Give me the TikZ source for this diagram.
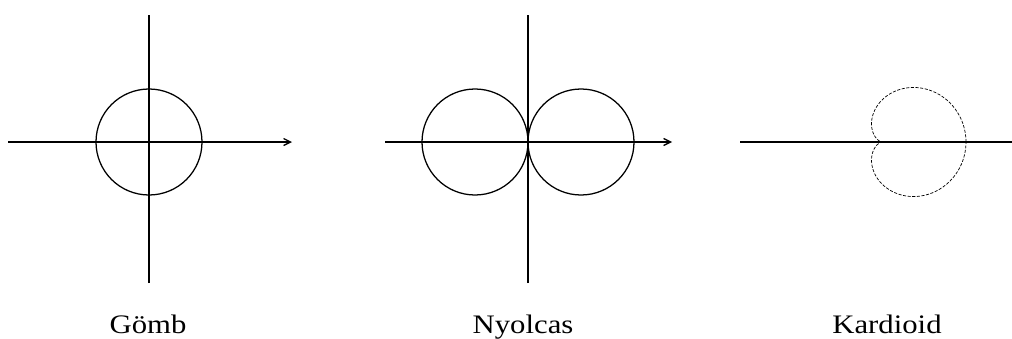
\documentclass[tikz,border=0pt]{standalone}
\usepackage{fontspec}
\setmainfont{Liberation Serif}
\usetikzlibrary{arrows.meta, positioning}

\begin{document}
\begin{tikzpicture}[
    x=0.025cm, y=0.025cm,
    axis/.style={line width=0.9pt},
    curve/.style={line width=0.9pt},
    pattern/.style={line width=0.5pt, dash pattern=on 2.2pt off 1.1pt},
    lbl/.style={font=\fontsize{19}{22}\selectfont, anchor=base,
                inner sep=0pt, xscale=1.15, transform shape},
    >={Straight Barb[length=5pt, width=5pt]},
]
  \useasboundingbox (0,0) rectangle (1012,338);

  % ---- Gomb: sphere pattern ----
  \coordinate (o1) at (149,196);
  \coordinate (o1w) at (8,196);
  \coordinate (o1e) at (292,196);
  \coordinate (o1n) at (149,323);
  \coordinate (o1s) at (149,55);
  \draw[axis, ->] (o1w) -- (o1e);
  \draw[axis] (o1s) -- (o1n);
  \draw[curve] (o1) circle[radius=53];

  % ---- Nyolcas: figure eight ----
  \coordinate (o2) at (528,196);
  \coordinate (o2l) at (475,196);
  \coordinate (o2r) at (581,196);
  \coordinate (o2w) at (385,196);
  \coordinate (o2e) at (672,196);
  \coordinate (o2n) at (528,323);
  \coordinate (o2s) at (528,55);
  \draw[axis, ->] (o2w) -- (o2e);
  \draw[axis] (o2s) -- (o2n);
  \draw[curve] (o2l) circle[radius=53];
  \draw[curve] (o2r) circle[radius=53];

  % ---- Kardioid: r = a(1+cos t), a = 42 ----
  \coordinate (o3) at (882,196);
  \coordinate (o3w) at (740,196);
  \coordinate (o3e) at (1012,196);
  \draw[axis] (o3w) -- (o3e);
  \draw[pattern, shift={(o3)}]
    plot[domain=0:360, samples=120, smooth]
    ({42*(1+cos(\x))*cos(\x)}, {42*(1+cos(\x))*sin(\x)});

  % ---- Labels ----
  \node[lbl] (gomb)    at (148,5) {Gömb};
  \node[lbl] (nyolcas) at (523,5) {Nyolcas};
  \node[lbl] (kard)    at (887,5) {Kardioid};

\end{tikzpicture}
\end{document}
